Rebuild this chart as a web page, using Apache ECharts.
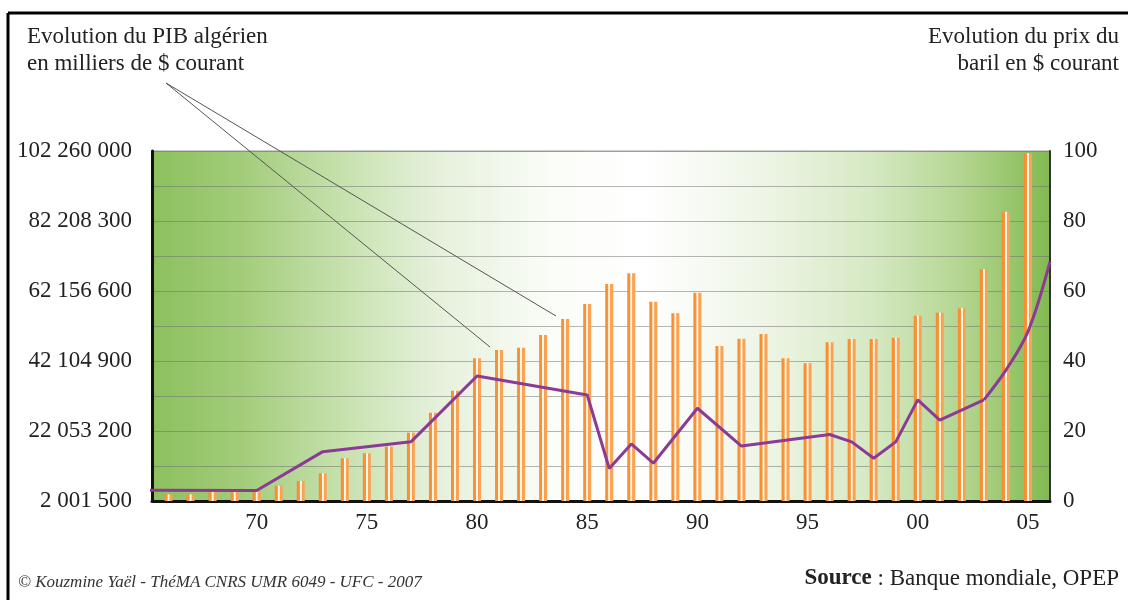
<!DOCTYPE html>
<html>
<head>
<meta charset="utf-8">
<script src="https://cdn.jsdelivr.net/npm/echarts@6/dist/echarts.min.js"></script>
<style>
html,body{margin:0;padding:0;background:#fff;}
#main{width:1128px;height:600px;}
</style>
</head>
<body>
<div id="main"></div>
<script>
// GDP of Algeria, thousands of current $ (bars)
const gdpYears = [1966,1967,1968,1969,1970,1971,1972,1973,1974,1975,1976,1977,1978,1979,1980,1981,1982,1983,1984,1985,1986,1987,1988,1989,1990,1991,1992,1993,1994,1995,1996,1997,1998,1999,2000,2001,2002,2003,2004,2005];
const gdpValues = [3920000,3920000,4670000,4670000,4700000,6380000,7730000,9940000,14230000,15670000,17560000,21570000,27300000,33600000,42880000,45260000,45920000,49550000,54140000,58430000,64160000,67230000,59090000,55770000,61670000,46400000,48490000,49840000,42880000,41450000,47460000,48410000,48410000,48780000,55080000,55940000,57200000,68370000,84870000,101600000];

// Oil barrel price, current $ (line)
const priceYears = [1965,1970,1973,1977,1980,1985,1986,1987,1988,1990,1992,1996,1997,1998,1999,2000,2001,2003,2004,2005,2006];
const priceValues = [3.1,3.0,14.1,16.9,35.7,30.3,9.3,16.3,10.8,26.5,15.7,19.0,16.9,12.2,16.9,28.9,23.1,28.9,37.4,48.4,68.4];

// Tick labels
const leftTickLabels = ['2 001 500','22 053 200','42 104 900','62 156 600','82 208 300','102 260 000'];
const gdpAxisMin = 2001500;
const gdpAxisMax = 102260000;

const FONT = '"Liberation Serif", "DejaVu Serif", serif';

const barData = gdpYears.map((y, i) => [y, gdpValues[i]]);
const lineStraight = [];
const lineTail = [];
priceYears.forEach((y, i) => {
  if (y <= 2003) lineStraight.push([y, priceValues[i]]);
  if (y >= 2003) lineTail.push([y, priceValues[i]]);
});

const chart = echarts.init(document.getElementById('main'));
const lineColor = '#8b3b93';

chart.setOption({
  animation: false,
  backgroundColor: '#ffffff',
  grid: {
    left: 152, top: 151, right: 78, bottom: 99,
    show: true,
    borderColor: '#9a9a9a',
    borderWidth: 1,
    backgroundColor: new echarts.graphic.LinearGradient(0, 0, 1, 0, [
      {offset: 0, color: '#8cc05c'},
      {offset: 0.1, color: '#a2cc7a'},
      {offset: 0.2, color: '#c3dfa8'},
      {offset: 0.32, color: '#e6f1dc'},
      {offset: 0.45, color: '#fbfdf8'},
      {offset: 0.55, color: '#ffffff'},
      {offset: 0.68, color: '#eef5e6'},
      {offset: 0.8, color: '#d6e9c3'},
      {offset: 0.9, color: '#b4d691'},
      {offset: 1, color: '#82b950'}
    ])
  },
  xAxis: {
    type: 'value',
    min: 1965.25,
    max: 2006,
    interval: 0.25,
    axisLine: {show: true, onZero: false, lineStyle: {color: '#111', width: 3}},
    axisTick: {show: false},
    splitLine: {show: false},
    axisLabel: {
      margin: 10,
      fontFamily: FONT,
      fontSize: 23,
      color: '#222',
      showMinLabel: true,
      showMaxLabel: true,
      formatter: function (v) {
        const r = Math.round(v);
        if (Math.abs(v - r) > 1e-6 || r % 5 !== 0) return '';
        const s = String(r % 100);
        return s.length < 2 ? '0' + s : s;
      }
    }
  },
  yAxis: [
    {
      type: 'value', position: 'left', min: 0, max: 5, interval: 1,
      axisLine: {show: true, lineStyle: {color: '#111', width: 3}},
      axisTick: {show: false},
      splitLine: {show: false},
      axisLabel: {
        margin: 20, fontFamily: FONT, fontSize: 23, color: '#222',
        formatter: function (v) { return leftTickLabels[Math.round(v)] || ''; }
      }
    },
    {
      type: 'value', position: 'right', min: 0, max: 100, interval: 10,
      axisLine: {show: true, lineStyle: {color: '#333', width: 2}},
      axisTick: {show: false},
      splitLine: {show: true, lineStyle: {color: 'rgba(110,110,110,0.5)', width: 1}},
      axisLabel: {
        margin: 13, fontFamily: FONT, fontSize: 23, color: '#222',
        formatter: function (v) { return (Math.round(v) % 20 === 0) ? String(v) : ''; }
      }
    },
    {
      type: 'value', show: false, min: gdpAxisMin, max: gdpAxisMax,
      splitLine: {show: false}
    }
  ],
  series: [
    {
      type: 'bar',
      yAxisIndex: 2,
      barWidth: 8,
      clip: true,
      data: barData,
      itemStyle: {
        color: new echarts.graphic.LinearGradient(0, 0, 1, 0, [
          {offset: 0, color: '#f58c2e'},
          {offset: 0.34, color: '#f7953b'},
          {offset: 0.42, color: '#fff6ea'},
          {offset: 0.58, color: '#fff6ea'},
          {offset: 0.66, color: '#f9a152'},
          {offset: 1, color: '#f9a557'}
        ])
      }
    },
    {
      type: 'line',
      yAxisIndex: 1,
      data: lineStraight,
      symbol: 'none',
      clip: true,
      lineStyle: {color: lineColor, width: 3},
      z: 5
    },
    {
      type: 'line',
      yAxisIndex: 1,
      data: lineTail,
      symbol: 'none',
      smooth: 0.35,
      clip: true,
      lineStyle: {color: lineColor, width: 3},
      z: 5
    }
  ],
  graphic: [
    {type: 'line', shape: {x1: 8, y1: 13, x2: 1128, y2: 13}, style: {stroke: '#000', lineWidth: 3}},
    {type: 'line', shape: {x1: 8, y1: 13, x2: 8, y2: 600}, style: {stroke: '#000', lineWidth: 3}},
    {type: 'line', shape: {x1: 166, y1: 83, x2: 490, y2: 347}, style: {stroke: '#555', lineWidth: 1}, z: 10},
    {type: 'line', shape: {x1: 166, y1: 83, x2: 556, y2: 316}, style: {stroke: '#555', lineWidth: 1}, z: 10},
    {type: 'text', x: 27, y: 23, style: {text: 'Evolution du PIB algérien\nen milliers de $ courant', font: '23px ' + FONT, fill: '#222', lineHeight: 27}},
    {type: 'text', x: 1119, y: 23, style: {text: 'Evolution du prix du\nbaril en $ courant', font: '23px ' + FONT, fill: '#222', lineHeight: 27, align: 'right'}},
    {type: 'text', x: 18, y: 574, style: {text: '© Kouzmine Yaël - ThéMA CNRS UMR 6049 - UFC - 2007', font: 'italic 17px ' + FONT, fill: '#333'}},
    {type: 'text', x: 1119, y: 567, style: {
      text: '{b|Source} : Banque mondiale, OPEP',
      font: '23px ' + FONT, fill: '#222', align: 'right',
      rich: {b: {fontWeight: 'bold', fontFamily: FONT, fontSize: 23, fill: '#222'}}
    }}
  ]
});
</script>
</body>
</html>
